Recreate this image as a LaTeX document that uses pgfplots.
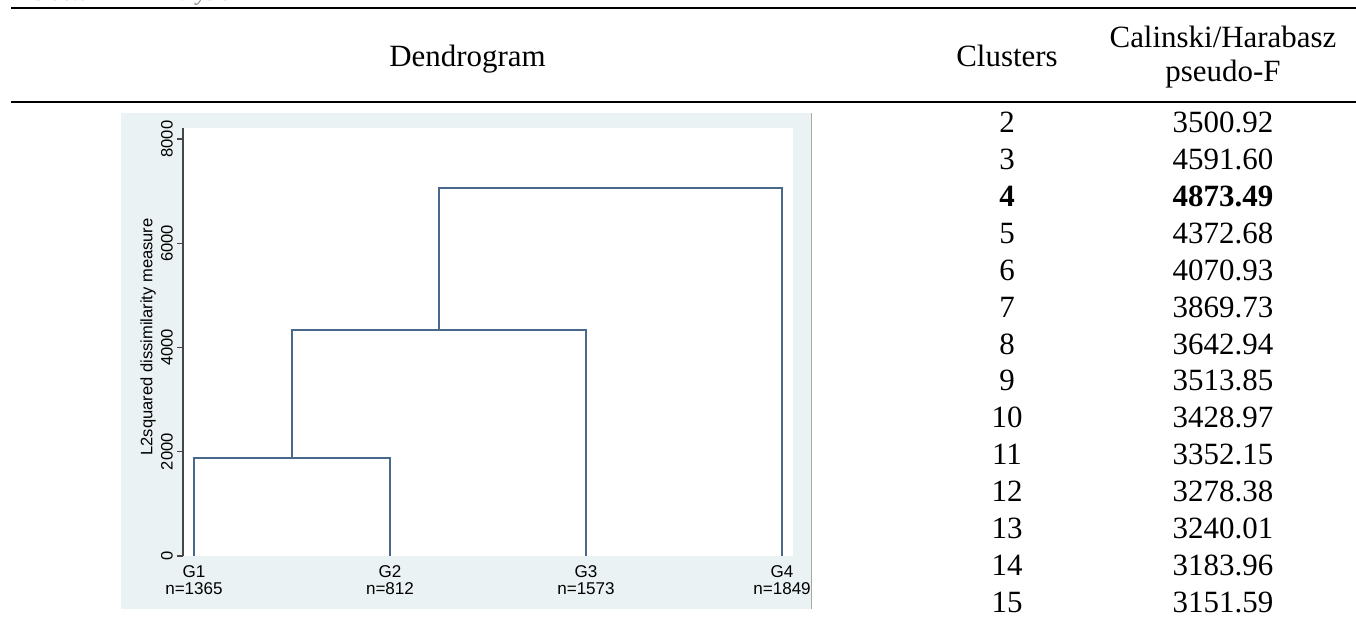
\documentclass[border=0pt]{standalone}
\usepackage{fontspec}
\setmainfont{Liberation Serif}
\newfontfamily\statafont{Liberation Sans}
\usepackage{pgfplots}
\pgfplotsset{compat=1.18}

\definecolor{stbg}{RGB}{234,242,243}
\definecolor{dendro}{RGB}{72,104,140}
\definecolor{stedge}{RGB}{168,168,168}
\definecolor{staxis}{RGB}{70,70,70}

\newcommand{\tabfont}{\fontsize{11.6}{13.9}\selectfont}

\begin{document}
\begin{tikzpicture}[x=0.375pt,y=-0.375pt]
\path[use as bounding box] (0,0) rectangle (1356,618);
\begin{scope}
\clip (0,0) rectangle (1356,618);

% caption cut off at the top of the page
\node[anchor=base west, inner sep=0, text=gray, font=\fontsize{8.5}{10}\selectfont\itshape] at (30,0.5) {Cluster};
\node[anchor=base west, inner sep=0, text=gray, font=\fontsize{8.5}{10}\selectfont\itshape] at (153,0.5) {Analysis};

% table rules
\draw[line width=0.75pt] (11,7.7) -- (1356,7.7);
\draw[line width=0.75pt] (11,102) -- (1356,102);

% header
\node[anchor=base, inner sep=0, font=\tabfont] at (467.5,67) {Dendrogram};
\node[anchor=base, inner sep=0, font=\tabfont] at (1007,67) {Clusters};
\node[anchor=base, inner sep=0, font=\tabfont] at (1223,48) {Calinski/Harabasz};
\node[anchor=base, inner sep=0, font=\tabfont] at (1223,82) {pseudo-F};

% pseudo-F rows
\foreach \k/\v [count=\i from 0] in {2/3500.92, 3/4591.60, 4/4873.49, 5/4372.68, 6/4070.93,
    7/3869.73, 8/3642.94, 9/3513.85, 10/3428.97, 11/3352.15, 12/3278.38,
    13/3240.01, 14/3183.96, 15/3151.59} {
  \ifnum\k=4
    \node[anchor=base, inner sep=0, font=\tabfont\bfseries] at (1007,133+\i*36.85) {\k};
    \node[anchor=base, inner sep=0, font=\tabfont\bfseries] at (1223,133+\i*36.85) {\v};
  \else
    \node[anchor=base, inner sep=0, font=\tabfont] at (1007,133+\i*36.85) {\k};
    \node[anchor=base, inner sep=0, font=\tabfont] at (1223,133+\i*36.85) {\v};
  \fi
}

% Stata graph panel
\fill[stbg] (121,113) rectangle (812,609);
\draw[stedge, line width=0.6pt] (811.5,113) -- (811.5,609);

\begin{scope}[x=1cm,y=1cm]
\begin{axis}[
    at={(68.625pt,-208.5pt)}, anchor=south west,
    scale only axis,
    width=228.75pt, height=160.5pt,
    xmin=0.944, xmax=4.056,
    ymin=0, ymax=8212,
    axis background/.style={fill=white},
    axis lines*=left,
    x axis line style={draw=none},
    y axis line style={staxis, line width=0.5pt},
    tick align=outside,
    major tick length=2.25pt,
    xtick={1,2,3,4},
    xticklabels={{G1\\n=1365},{G2\\n=812},{G3\\n=1573},{G4\\n=1849}},
    xtick style={draw=none},
    xticklabel style={align=center, yshift=2.2pt, font=\statafont\fontsize{6.4}{6.5}\selectfont},
    ytick={0,2000,4000,6000,8000},
    ytick style={staxis, line width=0.5pt},
    yticklabel style={rotate=90, anchor=south, inner sep=1.4pt, font=\statafont\fontsize{6.2}{7}\selectfont},
    /pgf/number format/assume math mode=true,
    /pgf/number format/1000 sep={},
    ylabel={L2squared dissimilarity measure},
    every axis y label/.style={at={(axis description cs:-0.0574,0.512)}, rotate=90, anchor=center,
        font=\statafont\fontsize{6.2}{7}\selectfont},
]
\addplot[dendro, line width=0.75pt, mark=none] coordinates {(1,0) (1,1874) (2,1874) (2,0)};
\addplot[dendro, line width=0.75pt, mark=none] coordinates {(1.5,1874) (1.5,4336) (3,4336) (3,0)};
\addplot[dendro, line width=0.75pt, mark=none] coordinates {(2.25,4336) (2.25,7054) (4,7054) (4,0)};
\end{axis}
\end{scope}
\end{scope}
\end{tikzpicture}
\end{document}
